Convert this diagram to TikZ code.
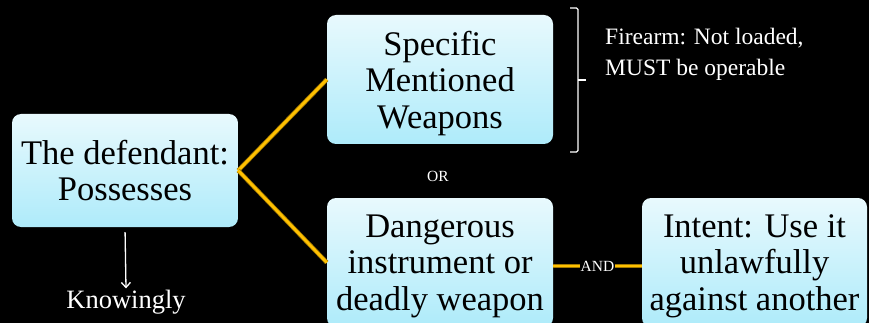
\documentclass[tikz,border=0pt]{standalone}
\usepackage{fontspec}
\setmainfont{Liberation Serif}
\usetikzlibrary{arrows.meta}
\definecolor{boxtop}{HTML}{E8F9FD}
\definecolor{boxbot}{HTML}{AEEBFA}
\definecolor{goldin}{HTML}{FFC000}
\definecolor{goldout}{HTML}{A07800}
\tikzset{
  box/.style={rounded corners=9pt, top color=boxtop, bottom color=boxbot, draw=none,
    align=center, text=black, inner sep=0pt, text depth=0pt,
    font=\fontsize{34.5}{36.5}\selectfont},
  goldline/.style={draw=goldout, double=goldin, double distance=2.8pt, line width=0.8pt},
  note/.style={text=white, align=left, inner sep=0pt, font=\fontsize{23.5}{31}\selectfont},
  small/.style={text=white, inner sep=1pt, font=\fontsize{15.5}{17}\selectfont}
}
\begin{document}
\begin{tikzpicture}[x=1pt,y=-1pt]
\fill[black] (0,0) rectangle (869,323);
\useasboundingbox (0,0) rectangle (869,323);
\node[box, minimum width=226pt, minimum height=113pt] (b1) at (125,170.5) {The defendant:\\Possesses};
\node[box, minimum width=226pt, minimum height=129pt] (b2) at (440,79.5) {Specific\\Mentioned\\Weapons};
\node[box, minimum width=226pt, minimum height=129pt] (b3) at (440,262.5) {Dangerous\\instrument or\\deadly weapon};
\node[box, minimum width=225pt, minimum height=129pt] (b4) at (754.5,262.5) {Intent: Use it\\unlawfully\\against another};
\draw[goldline] (b1.east) -- (b2.west);
\draw[goldline] (b1.east) -- (b3.west);
\draw[goldline] ([yshift=-3.5pt]b3.east) -- node[small, fill=black, inner sep=1pt] (and) {AND} ([yshift=-3.5pt]b4.west);
\node[small] (or) at (438,176) {OR};
\node[text=white, inner sep=0pt, font=\fontsize{26.5}{30}\selectfont, anchor=base] (know) at (126,308) {Knowingly};
\draw[white, line width=1.3pt, -{Straight Barb[length=5pt,width=9pt]}, shorten <=5pt] (b1.south) -- ([yshift=1pt]know.north);
\coordinate (bt) at (578,8);
\coordinate (bb) at (578,152);
\coordinate (bm) at (578,80);
\draw[white, line width=1.3pt, rounded corners=1.5pt] ([xshift=-8pt]bt) -- (bt) -- (bb) -- ([xshift=-8pt]bb);
\draw[white, line width=1.3pt] (bm) -- ([xshift=8pt]bm);
\node[note, anchor=base west] (fire) at (605,76) {Firearm: Not loaded,\\MUST be operable};
\end{tikzpicture}
\end{document}
